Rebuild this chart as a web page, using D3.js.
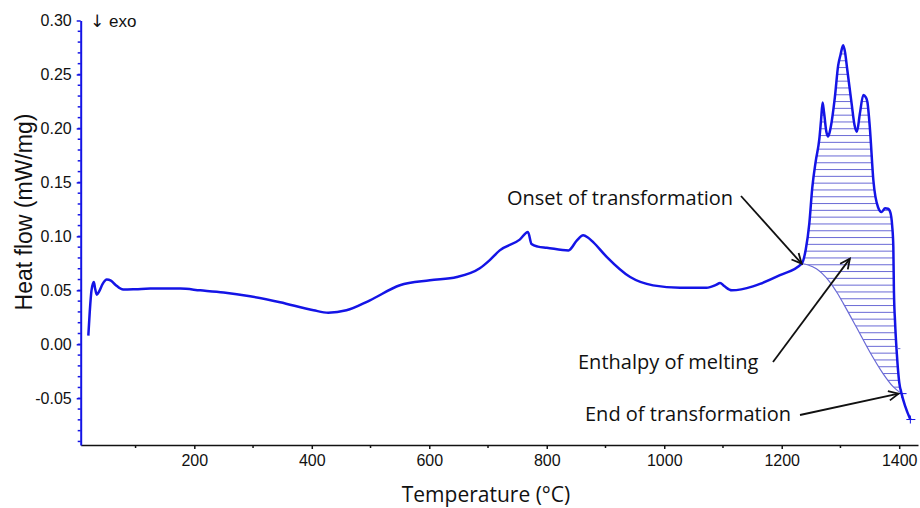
<!DOCTYPE html>
<html>
<head>
<meta charset="utf-8">
<script src="https://cdn.jsdelivr.net/npm/d3@7"></script>
<style>
  body { margin: 0; background: #fff; }
  svg { display: block; }
</style>
</head>
<body>
<div id="container"></div>
<script>
// DSC trace, heat flow vs temperature
const WIDTH = 920;
const HEIGHT = 508;

const temps = [19.6, 22, 25, 29, 31, 34, 38, 44, 51, 58, 66, 79, 100, 125, 176, 210, 250, 295, 346, 403, 428, 459, 499, 550, 601, 647, 686, 703, 720, 754, 768, 774, 785, 800, 837, 851, 862, 870, 879, 902, 942, 981, 1027, 1072, 1088, 1095, 1102, 1115, 1151, 1163, 1197, 1234,
  1241, 1247, 1252, 1258, 1264, 1267, 1269.6, 1272, 1276, 1279, 1283, 1290.5, 1296, 1300, 1304.6, 1308, 1311, 1319, 1324, 1328, 1333, 1339, 1343, 1346, 1350, 1356, 1364, 1370, 1376, 1381, 1385, 1388, 1390, 1391, 1393, 1396, 1400, 1404, 1410, 1419];
const flows = [0.008, 0.03, 0.05, 0.0577, 0.052, 0.046, 0.049, 0.056, 0.060, 0.059, 0.055, 0.0507, 0.051, 0.0516, 0.0516, 0.050, 0.048, 0.0445, 0.039, 0.0315, 0.0293, 0.0315, 0.0408, 0.0547, 0.0593, 0.0623, 0.0704, 0.078, 0.087, 0.097, 0.104, 0.093, 0.0905, 0.0895, 0.087, 0.096, 0.101, 0.099, 0.0947, 0.081, 0.0623, 0.0546, 0.0524, 0.0524, 0.055, 0.0568, 0.054, 0.050, 0.0537, 0.056, 0.064, 0.0747,
  0.088, 0.112, 0.145, 0.170, 0.190, 0.208, 0.224, 0.215, 0.197, 0.1926, 0.200, 0.229, 0.258, 0.268, 0.277, 0.270, 0.257, 0.223, 0.203, 0.197, 0.2136, 0.231, 0.229, 0.224, 0.201, 0.152, 0.127, 0.1225, 0.126, 0.1256, 0.122, 0.110, 0.090, 0.050, 0.020, -0.009, -0.035, -0.0457, -0.057, -0.0697];

// interpolated baseline under the melting peak
const baseTemps = [1234, 1245, 1259, 1270, 1282, 1294, 1305, 1327, 1350, 1372.5, 1390, 1404];
const baseFlows = [0.0747, 0.0735, 0.070, 0.065, 0.0577, 0.048, 0.0377, 0.016, -0.0071, -0.0271, -0.0395, -0.0457];

const onset = [1234, 0.0747];
const endPoint = [1404, -0.0457];
const enthalpyPoint = [1316, 0.0794];

const xTickValues = [200, 400, 600, 800, 1000, 1200, 1400];
const xMinorValues = [100, 300, 500, 700, 900, 1100, 1300];
const yTickValues = [-0.05, 0, 0.05, 0.10, 0.15, 0.20, 0.25, 0.30];
const yMinorValues = d3.range(-9, 30).map(d => d / 100);

const BLUE = '#1414e6';
const HATCH = '#6a6ad6';

const x = d3.scaleLinear().domain([6.6, 1432]).range([80.7, 918]);
const y = d3.scaleLinear().domain([-0.0933, 0.30]).range([445, 20.5]);

const svg = d3.select('#container')
  .append('svg')
  .attr('width', WIDTH)
  .attr('height', HEIGHT);

const curve = temps.map((t, i) => ({ t: t, v: flows[i] }));
const base = baseTemps.map((t, i) => ({ t: t, v: baseFlows[i] }));
const peak = curve.filter(d => d.t >= onset[0] && d.t <= endPoint[0]);

const defs = svg.append('defs');

defs.append('clipPath').attr('id', 'under-curve')
  .append('path')
  .attr('d', d3.area().x(d => x(d.t)).y0(y(-0.0933)).y1(d => y(d.v)).curve(d3.curveMonotoneX)(peak));

defs.append('clipPath').attr('id', 'above-base')
  .append('path')
  .attr('d', d3.area().x(d => x(d.t)).y0(d => y(d.v)).y1(y(0.30)).curve(d3.curveMonotoneX)(base));

// hatching of the melting enthalpy
const hatch = svg.append('g').attr('clip-path', 'url(#under-curve)')
  .append('g').attr('clip-path', 'url(#above-base)');

hatch.selectAll('line')
  .data(d3.range(-0.046, 0.28, 0.0063))
  .enter()
  .append('line')
  .attr('x1', x(onset[0]))
  .attr('x2', x(endPoint[0]))
  .attr('y1', d => y(d))
  .attr('y2', d => y(d))
  .attr('stroke', HATCH)
  .attr('stroke-width', 1);

svg.append('path')
  .datum(base)
  .attr('fill', 'none')
  .attr('stroke', HATCH)
  .attr('stroke-width', 1.2)
  .attr('d', d3.line().x(d => x(d.t)).y(d => y(d.v)).curve(d3.curveMonotoneX));

svg.append('path')
  .datum(curve)
  .attr('fill', 'none')
  .attr('stroke', BLUE)
  .attr('stroke-width', 2.5)
  .attr('stroke-linejoin', 'round')
  .attr('d', d3.line().x(d => x(d.t)).y(d => y(d.v)).curve(d3.curveMonotoneX));

// little + markers
[endPoint, [temps[temps.length - 1], flows[flows.length - 1]]].forEach(p => {
  const cx = x(p[0]), cy = y(p[1]);
  svg.append('path')
    .attr('d', `M${cx - 4},${cy}H${cx + 5}M${cx},${cy - 4}V${cy + 4}`)
    .attr('stroke', BLUE)
    .attr('stroke-width', 1);
});
svg.append('line')
  .attr('x1', x(1396)).attr('x2', x(1402))
  .attr('y1', y(-0.004)).attr('y2', y(-0.004))
  .attr('stroke', HATCH).attr('stroke-width', 1);

// axes
const xAxis = svg.append('g')
  .attr('transform', `translate(0,${y(-0.0933)})`)
  .call(d3.axisBottom(x).tickValues(xTickValues).tickSize(4).tickPadding(6).tickSizeOuter(0)
    .tickFormat(d => String(d)));
xAxis.select('.domain').attr('stroke', '#111').attr('stroke-width', 1.5);
xAxis.selectAll('.tick line').attr('stroke', '#111').attr('stroke-width', 1.5);
xAxis.selectAll('text')
  .attr('font-family', '"Liberation Sans", Arial, sans-serif')
  .attr('font-size', 16)
  .attr('fill', '#111');

svg.append('g')
  .attr('transform', `translate(0,${y(-0.0933)})`)
  .selectAll('line')
  .data(xMinorValues)
  .enter()
  .append('line')
  .attr('x1', d => x(d)).attr('x2', d => x(d))
  .attr('y1', 0).attr('y2', 3)
  .attr('stroke', '#111').attr('stroke-width', 1.5);

svg.append('g')
  .attr('transform', `translate(${x(6.6)},0)`)
  .selectAll('line')
  .data(yMinorValues)
  .enter()
  .append('line')
  .attr('x1', -3).attr('x2', 0)
  .attr('y1', d => y(d)).attr('y2', d => y(d))
  .attr('stroke', BLUE).attr('stroke-width', 1.5);

const yAxis = svg.append('g')
  .attr('transform', `translate(${x(6.6)},0)`)
  .call(d3.axisLeft(y).tickValues(yTickValues).tickSize(4).tickPadding(5).tickSizeOuter(0)
    .tickFormat(d => d.toFixed(2)));
yAxis.select('.domain').attr('stroke', BLUE).attr('stroke-width', 2);
yAxis.selectAll('.tick line').attr('stroke', BLUE).attr('stroke-width', 1.5);
yAxis.selectAll('text')
  .attr('font-family', '"Liberation Sans", Arial, sans-serif')
  .attr('font-size', 16)
  .attr('fill', '#111');

const exo = svg.append('text')
  .attr('x', 90)
  .attr('y', 27)
  .attr('font-family', '"Liberation Sans", Arial, sans-serif')
  .attr('font-size', 17)
  .attr('fill', '#111');
exo.append('tspan')
  .attr('font-family', '"DejaVu Sans", sans-serif')
  .attr('fill', '#111')
  .text('↓');
exo.append('tspan').text(' exo');

// axis titles
svg.append('text')
  .attr('transform', 'translate(31.5,212) rotate(-90)')
  .attr('text-anchor', 'middle')
  .attr('font-family', '"Liberation Sans", Arial, sans-serif')
  .attr('font-size', 23)
  .attr('fill', '#111')
  .text('Heat flow (mW/mg)');

svg.append('text')
  .attr('x', 486)
  .attr('y', 502)
  .attr('text-anchor', 'middle')
  .attr('font-family', '"Open Sans", sans-serif')
  .attr('font-size', 21)
  .attr('fill', '#111')
  .text('Temperature (°C)');

// annotations
const notes = [
  { label: 'Onset of transformation', tx: 507, ty: 205, from: [741, 196], to: [x(onset[0]), y(onset[1])] },
  { label: 'Enthalpy of melting', tx: 578, ty: 369, from: [773, 362], to: [x(enthalpyPoint[0]), y(enthalpyPoint[1])] },
  { label: 'End of transformation', tx: 585, ty: 421, from: [800, 415], to: [x(endPoint[0]) - 3, y(endPoint[1])] }
];

notes.forEach(n => {
  svg.append('text')
    .attr('x', n.tx)
    .attr('y', n.ty)
    .attr('font-family', '"Open Sans", sans-serif')
    .attr('font-size', 20)
    .attr('fill', '#111')
    .text(n.label);

  const [x1, y1] = n.from, [x2, y2] = n.to;
  const ang = Math.atan2(y2 - y1, x2 - x1);
  const len = 11, spread = 0.45;
  svg.append('line')
    .attr('x1', x1).attr('y1', y1).attr('x2', x2).attr('y2', y2)
    .attr('stroke', '#111').attr('stroke-width', 1.8);
  svg.append('path')
    .attr('d', `M${x2 - len * Math.cos(ang - spread)},${y2 - len * Math.sin(ang - spread)}L${x2},${y2}L${x2 - len * Math.cos(ang + spread)},${y2 - len * Math.sin(ang + spread)}`)
    .attr('fill', 'none')
    .attr('stroke', '#111')
    .attr('stroke-width', 1.8);
});
</script>
</body>
</html>
